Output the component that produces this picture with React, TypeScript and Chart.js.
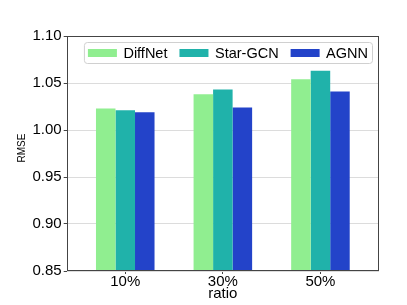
import React, { useEffect, useRef } from "react";
import { Chart, registerables } from "chart.js";

Chart.register(...registerables);

const categories = ["10%", "30%", "50%"];
const seriesNames = ["DiffNet", "Star-GCN", "AGNN"];
const diffNet = [1.023, 1.038, 1.054];
const starGcn = [1.021, 1.043, 1.063];
const agnn = [1.019, 1.024, 1.041];
const yTicks = [0.85, 0.9, 0.95, 1.0, 1.05, 1.1];
const colors = ["#90EE90", "#20B2AA", "#2343C9"];
const yTitle = "RMSE";

const FONT = "'Liberation Sans', Arial, sans-serif";

const frameAndLegend = {
  id: "frameAndLegend",
  afterDraw(chart: any) {
    const { ctx, chartArea } = chart;
    ctx.save();
    // frame
    const l = Math.round(chartArea.left) + 0.5;
    const t = Math.round(chartArea.top) + 0.5;
    const r = Math.round(chartArea.right) - 0.5;
    const b = Math.round(chartArea.bottom) - 0.5;
    ctx.strokeStyle = "#444";
    ctx.lineWidth = 1;
    ctx.strokeRect(l, t, r - l, b - t);

    // y title
    ctx.save();
    ctx.translate(22.7, 148);
    ctx.rotate(-Math.PI / 2);
    ctx.font = `10px ${FONT}`;
    ctx.fillStyle = "#000";
    ctx.textAlign = "center";
    ctx.textBaseline = "middle";
    ctx.fillText(yTitle, 0, 0);
    ctx.restore();

    // legend
    ctx.font = `14.5px ${FONT}`;
    const sw = 29;
    const sh = 8;
    const gapST = 6.5;
    const gapItem = 12;
    const padX = 4;
    const items = chart.data.datasets.map((d: any) => ({
      label: d.label,
      color: d.backgroundColor,
      w: ctx.measureText(d.label).width,
    }));
    let total = padX * 2;
    items.forEach((it: any, i: number) => {
      total += sw + gapST + it.w + (i < items.length - 1 ? gapItem : 0);
    });
    const boxH = 21;
    const boxR = chartArea.right - 7;
    const boxL = boxR - total;
    const boxT = chartArea.top + 6;
    ctx.beginPath();
    if (ctx.roundRect) ctx.roundRect(boxL + 0.5, boxT + 0.5, total, boxH, 3);
    else ctx.rect(boxL + 0.5, boxT + 0.5, total, boxH);
    ctx.fillStyle = "rgba(255,255,255,0.8)";
    ctx.fill();
    ctx.strokeStyle = "#d0d0d0";
    ctx.lineWidth = 1;
    ctx.stroke();
    let x = boxL + padX;
    const cy = boxT + boxH / 2 + 0.5;
    ctx.textBaseline = "middle";
    ctx.textAlign = "left";
    items.forEach((it: any) => {
      ctx.fillStyle = it.color;
      ctx.fillRect(x, cy - sh / 2, sw, sh);
      x += sw + gapST;
      ctx.fillStyle = "#000";
      ctx.fillText(it.label, x, cy + 1);
      x += it.w + gapItem;
    });
    ctx.restore();
  },
};

export default function App() {
  const ref = useRef<HTMLCanvasElement>(null);
  useEffect(() => {
    if (!ref.current) return;
    const series = [diffNet, starGcn, agnn];
    const chart = new Chart(ref.current, {
      type: "bar",
      data: {
        datasets: series.map((vals, i) => ({
          label: seriesNames[i],
          data: vals.map((v, j) => ({ x: j, y: v })),
          backgroundColor: colors[i],
          borderWidth: 0,
          categoryPercentage: 0.6,
          barPercentage: 1.0,
        })),
      },
      options: {
        animation: false,
        responsive: false,
        layout: { padding: { left: 14, top: 36, right: 28, bottom: 0 } },
        plugins: { legend: { display: false }, tooltip: { enabled: false } },
        scales: {
          x: {
            type: "linear",
            offset: false,
            min: -0.6,
            max: 2.6,
            afterBuildTicks: (s: any) => {
              s.ticks = categories.map((_, i) => ({ value: i }));
            },
            afterFit: (s: any) => {
              s.height = 34;
            },
            ticks: {
              callback: (v: any) => categories[Math.round(Number(v))] ?? "",
              color: "#000",
              font: { family: FONT, size: 15 },
              padding: -1,
              maxRotation: 0,
            },
            grid: { offset: false, drawOnChartArea: false, tickLength: 3, tickColor: "#444" },
            border: { display: false },
            title: {
              display: true,
              text: "ratio",
              color: "#000",
              font: { family: FONT, size: 15 },
              padding: { top: 0, bottom: 2 },
            },
          },
          y: {
            min: 0.85,
            max: 1.1,
            afterBuildTicks: (s: any) => {
              s.ticks = yTicks.map((v) => ({ value: v }));
            },
            afterFit: (s: any) => {
              s.width = 52.7;
            },
            ticks: {
              callback: (v: any) => Number(v).toFixed(2),
              color: "#000",
              font: { family: FONT, size: 15 },
              padding: 2,
            },
            grid: {
              color: "#dcdcdc",
              lineWidth: 1,
              tickLength: 3,
              tickColor: "#444",
            },
            border: { display: false },
          },
        },
      },
      plugins: [frameAndLegend],
    });
    return () => chart.destroy();
  }, []);
  return (
    <div style={{ position: "fixed", left: 0, top: 0, width: 407, height: 305, background: "#fff" }}>
      <canvas ref={ref} width={407} height={305} style={{ display: "block" }} />
    </div>
  );
}
